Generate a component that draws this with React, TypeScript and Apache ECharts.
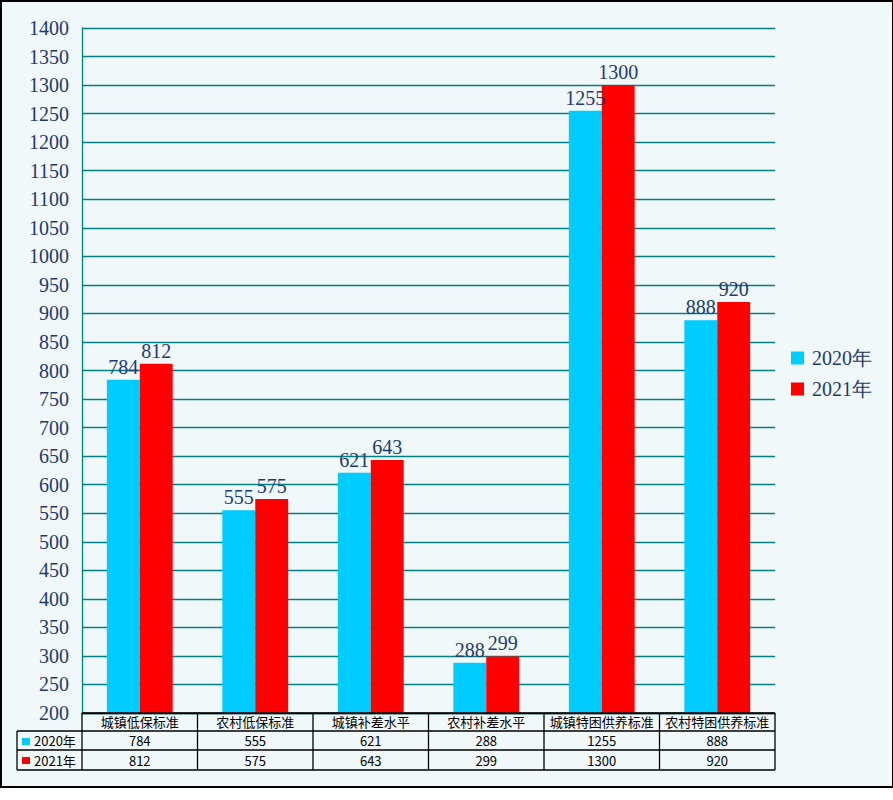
import React, { useEffect, useRef } from "react";
import * as echarts from "echarts";

const categories = ["城镇低保标准", "农村低保标准", "城镇补差水平", "农村补差水平", "城镇特困供养标准", "农村特困供养标准"];
const seriesNames = ["2020年", "2021年"];
const values2020 = [784, 555, 621, 288, 1255, 888];
const values2021 = [812, 575, 643, 299, 1300, 920];
const colors = ["#00CCFF", "#FF0000"];

const NAVY = "#1F3A70";
const GRID_L = 82;
const GRID_R = 775;
const GRID_T = 28;
const GRID_B = 713;
const ROWS_Y = [713, 731, 750, 770];
const TABLE_LEFT = 17;

function buildTable() {
  const els: any[] = [];
  const colW = (GRID_R - GRID_L) / categories.length;
  const line = (x1: number, y1: number, x2: number, y2: number) => ({
    type: "line",
    shape: { x1, y1, x2, y2 },
    style: { stroke: "#000", lineWidth: 1.3 },
    z: 50,
  });
  els.push(line(GRID_L, ROWS_Y[0], GRID_R, ROWS_Y[0]));
  for (let r = 1; r < ROWS_Y.length; r++) els.push(line(TABLE_LEFT, ROWS_Y[r], GRID_R, ROWS_Y[r]));
  for (let i = 0; i <= categories.length; i++) {
    const x = GRID_L + i * colW;
    els.push(line(x, ROWS_Y[0], x, ROWS_Y[3]));
  }
  els.push(line(TABLE_LEFT, ROWS_Y[1], TABLE_LEFT, ROWS_Y[3]));
  const rowsData = [values2020, values2021];
  rowsData.forEach((vals, r) => {
    const yTop = ROWS_Y[r + 1];
    const yMid = (ROWS_Y[r + 1] + ROWS_Y[r + 2]) / 2;
    els.push({
      type: "rect",
      shape: { x: 22, y: yTop + 7, width: 8, height: 7 },
      style: { fill: colors[r] },
      z: 50,
    });
    els.push({
      type: "text",
      x: 34,
      y: yMid,
      style: {
        text: seriesNames[r],
        fill: "#000",
        font: '13px "Noto Sans CJK SC"',
        textVerticalAlign: "middle",
        verticalAlign: "middle",
      },
      z: 50,
    });
    vals.forEach((v, i) => {
      els.push({
        type: "text",
        x: GRID_L + (i + 0.5) * colW,
        y: yMid,
        style: {
          text: String(v),
          fill: "#000",
          font: '13px "Noto Sans CJK SC"',
          align: "center",
          textAlign: "center",
          verticalAlign: "middle",
          textVerticalAlign: "middle",
        },
        z: 50,
      });
    });
  });
  return els;
}

export default function App() {
  const ref = useRef<HTMLDivElement>(null);
  useEffect(() => {
    document.body.style.margin = "0";
    if (!ref.current) return;
    const chart = echarts.init(ref.current, null, { renderer: "svg" });
    const labelStyle = {
      show: true,
      position: "top" as const,
      distance: 3,
      color: NAVY,
      fontFamily: "Liberation Serif",
      fontSize: 20,
    };
    chart.setOption({
      animation: false,
      backgroundColor: "transparent",
      grid: { left: GRID_L, right: 893 - GRID_R, top: GRID_T, bottom: 800 - GRID_B },
      legend: {
        orient: "vertical",
        left: 786,
        top: 343,
        itemWidth: 13,
        itemHeight: 13,
        itemGap: 11,
        icon: "rect",
        textStyle: { color: NAVY, fontFamily: "Liberation Serif", fontSize: 20, padding: [0, 0, 0, 3] },
        data: seriesNames,
      },
      xAxis: {
        type: "category",
        data: categories,
        axisLine: { show: true, lineStyle: { color: "#000", width: 1.3 } },
        axisTick: { show: false },
        axisLabel: {
          color: "#000",
          fontFamily: "Noto Sans CJK SC",
          fontSize: 13,
          margin: 2,
          interval: 0,
        },
        splitLine: { show: false },
      },
      yAxis: {
        type: "value",
        min: 200,
        max: 1400,
        interval: 50,
        axisLine: { show: true, lineStyle: { color: "#008080", width: 1.3 } },
        axisTick: { show: false },
        axisLabel: {
          color: NAVY,
          fontFamily: "Liberation Serif",
          fontSize: 20,
          margin: 13,
          formatter: (v: number) => String(v),
        },
        splitLine: { show: true, lineStyle: { color: "#008080", width: 1.3 } },
      },
      series: [
        {
          name: seriesNames[0],
          type: "bar",
          data: values2020,
          itemStyle: { color: colors[0] },
          barGap: "0%",
          barCategoryGap: "43%",
          label: labelStyle,
        },
        {
          name: seriesNames[1],
          type: "bar",
          data: values2021,
          itemStyle: { color: colors[1] },
          barGap: "0%",
          barCategoryGap: "43%",
          label: labelStyle,
        },
      ],
      graphic: buildTable(),
    });
    return () => chart.dispose();
  }, []);
  return (
    <div style={{ position: "relative", width: 893, height: 800, background: "#fff" }}>
      <div
        style={{
          position: "absolute",
          left: 0,
          top: 0,
          width: 893,
          height: 788,
          boxSizing: "border-box",
          borderStyle: "solid",
          borderColor: "#000",
          borderWidth: "2px 1px 2px 2px",
          background: "#F0F8FA",
        }}
      />
      <div ref={ref} style={{ position: "absolute", left: 0, top: 0, width: 893, height: 800 }} />
    </div>
  );
}
